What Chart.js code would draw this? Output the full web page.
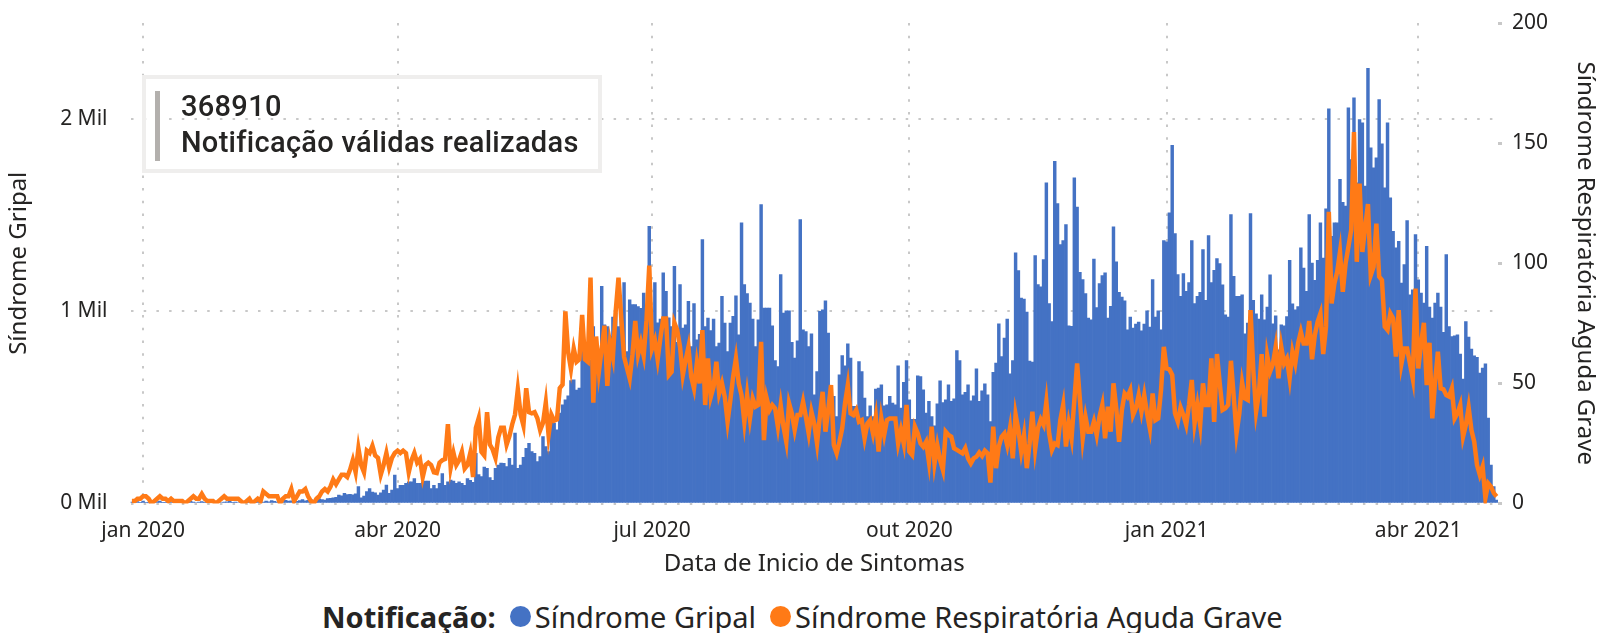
<!DOCTYPE html>
<html>
<head>
<meta charset="utf-8">
<script src="https://cdn.jsdelivr.net/npm/chart.js@4.4.0/dist/chart.umd.min.js"></script>
<style>
  html, body { margin: 0; padding: 0; background: #fff; }
  #wrap { position: relative; width: 1600px; height: 633px; overflow: hidden; font-family: "Noto Sans", sans-serif; color: #252423; }
  #grafico { position: absolute; left: 0; top: 0; }
  #cartao { position: absolute; left: 142px; top: 75px; width: 452px; height: 90px; border: 4px solid #efeeed; }
  #cartao .barra { position: absolute; left: 9px; top: 12px; width: 5px; height: 70px; background: #b3b0ad; }
  #cartao .txt { position: absolute; left: 35px; top: 9px; font-family: Roboto, sans-serif; font-weight: 500; font-size: 29px; line-height: 36px; color: #252423; letter-spacing: 0.3px; }
  #legenda { position: absolute; left: 322px; top: 595px; height: 42px; display: flex; align-items: center; font-size: 29px; white-space: nowrap; }
  #legenda b { margin-right: 14px; }
  #legenda .ponto { display: inline-block; width: 21px; height: 21px; border-radius: 50%; margin-right: 4px; }
</style>
</head>
<body>
<div id="wrap">
  <canvas id="grafico" width="1600" height="590"></canvas>
  <div id="cartao"><div class="barra"></div><div class="txt">368910<br>Notificação válidas realizadas</div></div>
  <div id="legenda"><b>Notificação:</b><span class="ponto" style="background:#4472c4"></span>Síndrome Gripal<span class="ponto" style="background:#ff7a16;margin-left:14px"></span>Síndrome Respiratória Aguda Grave</div>
</div>
<script>
// Síndrome Gripal, casos por dia (28/12/2019 a 29/04/2021)
const sgValues = [
  8, 5, 10, 4,
  12, 6, 3, 8, 5, 10, 12, 6, 4, 9,
  7, 5, 8, 10, 6, 4, 9, 11, 7, 5,
  8, 10, 6, 4, 12, 8, 6, 10, 5, 7,
  9, 11, 6, 8, 5, 10, 7, 9, 12, 6,
  8, 14, 10, 8, 12, 9, 15, 11, 8, 13,
  10, 16, 12, 14, 18, 11, 15, 20, 14, 17,
  22, 16, 18, 24, 20, 18, 26, 27, 30, 32,
  44, 40, 53, 46, 48, 45, 50, 88, 30, 39,
  62, 77, 60, 55, 44, 56, 70, 96, 53, 70,
  148, 78, 95, 95, 105, 113, 113, 130, 105, 105,
  113, 116, 116, 78, 95, 78, 105, 156, 95, 113,
  122, 116, 105, 113, 105, 95, 130, 120, 110, 261,
  150, 140, 190, 183, 135, 120, 183, 200, 210, 209,
  192, 235, 200, 366, 183, 200, 240, 287, 313, 270,
  261, 218, 244, 348, 296, 270, 427, 418, 383, 470,
  513, 540, 560, 640, 643, 590, 600, 800, 748, 760,
  748, 921, 695, 770, 1130, 930, 921, 870, 970, 990,
  920, 960, 1150, 790, 1060, 1035, 1035, 1025, 1015, 1095,
  975, 1442, 880, 1150, 940, 960,
  1200, 1104, 966, 920,
  1234, 838, 1139, 913, 930, 1052, 817, 1040, 852, 880,
  1373, 921, 965, 900, 960, 817, 835, 1078, 939, 791,
  939, 974, 1081, 878, 1460, 1139, 1092, 1043, 960, 817,
  956, 1555, 1017, 1017, 1017, 925, 744, 713, 1191, 991,
  1003, 1003, 838, 756, 847, 1477, 904, 895, 817, 883,
  565, 687, 1000, 1008, 1055, 887, 557, 557, 452, 670,
  769, 716, 831, 756, 505, 505, 739, 687, 548, 452,
  508, 452, 595, 600, 617, 508, 513, 557, 522, 513,
  716, 496, 630, 744, 539, 438, 438, 664, 661, 591,
  470, 531, 452,
  404, 518, 638, 525, 539, 617, 531, 545, 795, 743,
  565, 579, 617, 534, 560, 701, 531, 586, 623, 565,
  426, 683, 730, 935, 765, 861, 960, 675, 743, 1304,
  1212, 1069, 1064, 996, 741, 736, 1290, 1139, 1127, 1269,
  1668, 1040, 947, 1780, 1561, 1347, 1368, 1451, 925, 922,
  1695, 1542, 1203, 1165, 1092, 965, 956, 1272, 1020, 1144,
  1186, 1200, 965, 1026, 1439, 1257, 1099, 1074, 1055, 904,
  970, 913, 934, 944, 899, 934, 1003, 918, 1165, 970,
  1003, 904, 1368, 1361, 1512, 1863, 1404, 1191, 1078, 1196,
  1104, 1149, 1368, 1040, 1078, 1099,
  1321, 1057, 1394, 1150, 1213, 1274, 1248, 1138, 982, 970,
  1503, 1182, 1078, 1078, 1086, 883, 939, 1508, 1057, 987,
  960, 1086, 956, 1022, 1190, 935, 977, 800, 930, 925,
  973, 1265, 1039, 1008, 1025, 1330, 1225, 1104, 1503, 1251,
  1161, 1265, 1460, 1277, 1533, 2054, 1390, 1460, 1460, 1686,
  1567, 1547, 2059, 1790, 2111, 1668, 1998, 1981, 1651, 2264,
  1851, 1746, 1798, 2102, 1871, 1642, 1981, 1590, 1416, 1330,
  1364, 1147, 1243, 1472, 1086, 1112, 1399, 1164, 1095, 1043,
  1338, 1022, 965, 1043, 1095, 1022, 890, 1295, 921, 869,
  873, 878, 777, 647, 947, 866, 803, 768, 761, 678,
  704, 727, 444, 200, 88, 18
];

// Síndrome Respiratória Aguda Grave, casos por dia
const sragValues = [
  1, 1, 2, 2,
  3, 3, 2, 0, 1, 2, 3, 2, 2, 1,
  2, 1, 1, 1, 1, 0, 1, 2, 3, 2,
  2, 4, 2, 1, 1, 1, 0, 1, 2, 3,
  2, 2, 2, 2, 2, 1, 0, 1, 2, 0,
  1, 2, 1, 5, 4, 3, 3, 3, 3, 0,
  2, 3, 3, 6, 1, 3, 5, 5, 6, 3,
  1, 0, 2, 3, 5, 6, 5, 7, 10, 8,
  10, 12, 12, 11, 14, 18, 13, 23, 16, 13,
  22, 21, 24, 20, 19, 12, 16, 21, 15, 19,
  21, 22, 21, 22, 21, 13, 18, 21, 17, 18.5,
  11, 16, 17, 16, 13, 12.7, 17, 18, 18.5, 33,
  15, 21, 16, 18, 21.5, 14.5, 16, 21, 11, 31.5,
  35.5, 21.5, 20, 38, 24.5, 22.5, 19, 27.5, 31.5, 31.5,
  24.5, 28, 33, 37, 47.5, 37, 32.5, 48, 38, 37.5,
  38, 35.5, 30.5, 33.5, 42, 28.5, 37, 34.5, 35, 48,
  49.5, 80, 63, 56, 64.5, 59, 60, 78.5, 60, 59,
  94, 42, 69.5, 55, 64.5, 74, 49, 67, 61, 80,
  94, 77, 61, 56.5, 52, 62, 76, 62, 67, 61.5,
  76, 99, 64.5, 68, 60, 69, 77,
  77, 53.4, 54.8, 75.2, 72.2, 65.2, 53.4, 59.7, 65.2, 52.8,
  47.9, 58.3, 50, 72.2, 41, 60.4, 44.4, 48.6, 59, 45.8,
  50, 44.4, 34, 43, 52.8, 60.4, 50, 45.1, 34, 45.1,
  35.4, 43.7, 40.3, 41, 67.3, 26.4, 43.7, 38.9, 41, 39.6,
  32, 41, 32, 25.7, 41.7, 37.5, 30.6, 36.8, 36.8, 42.4,
  36.1, 29.2, 38.2, 33.3, 25, 36.1, 46.5, 29.9, 38.9, 49.3,
  24.3, 20.9, 25.7, 31.3, 41.7, 49.3, 37.5, 36.8, 38.9, 34,
  34.7, 27.1, 33.3, 34.7, 29.2, 36.1, 21.6, 35.4, 28.5, 34.7,
  35.4, 35.4, 35.4, 25, 30.6, 25, 41, 21.6, 20.2, 32,
  29.2, 25, 23.6, 25.7, 17.4, 32,
  16.7, 24.3, 18.1, 14, 29.9, 28.5, 27.8, 23, 22.3, 21.6,
  20.9, 23, 18.8, 16.7, 18.8, 19.5, 21.2, 19.8, 22, 20.9,
  8.7, 32, 14.7, 23.7, 27.8, 29.2, 24.3, 31.3, 18.8, 37.1,
  30.6, 21.6, 28.5, 14.7, 25, 38.2, 22.6, 31.3, 35, 32.7,
  42.4, 29.2, 22.3, 25, 24.3, 34.7, 41, 23.7, 33.4, 27.1,
  43, 58.3, 43, 27.1, 36.1, 29.9, 29.9, 34.1, 28.5, 36.1,
  41, 27.1, 40.3, 29.9, 50, 39.6, 25.7, 38.9, 45.8, 44.4,
  47.2, 36.8, 39.6, 45.1, 38.2, 45.1, 37.5, 31.3, 45.8, 34.7,
  35.4, 47.2, 65.2, 56.2, 55.8, 53.5, 37.5, 34.1, 40, 36.8,
  32.7, 41, 51.4, 33.4, 41, 32.7,
  50, 41, 41, 60.4, 34, 62.2, 50, 38.9, 39.6, 41,
  59.4, 44.5, 29.2, 37.5, 50.3, 43.8, 43.1, 80.5, 55.5, 38.2,
  45.8, 62.2, 36.1, 61.4, 54.9, 58, 65.2, 52.1, 65.2, 58.3,
  60.4, 52.1, 63.2, 58.3, 66.6, 71.5, 66.6, 66.6, 76, 60,
  70.1, 75.6, 79.1, 62.2, 73.6, 121.4, 83.3, 91.6, 96.4, 104.7,
  88.1, 99.9, 106.8, 113.8, 154.6, 100.6, 133.2, 104.7, 115.1, 124.6,
  95, 98.5, 116.5, 94.4, 93, 73.6, 72.2, 79.1, 77, 61.1,
  80.5, 58.3, 64.5, 64.5, 58.3, 52.1, 89.5, 56.2, 66.6, 75.2,
  49.3, 66.9, 35.4, 50.7, 63.2, 47.9, 47.5, 45.1, 44.5, 47.9,
  35.4, 37.5, 41, 27.8, 32.7, 40, 30.6, 25.7, 16, 11.9,
  15.4, 2.2, 8.4, 7, 4.3, 2.9
];

// marcas do eixo x
const tickDates = ['2020-01-01', '2020-04-01', '2020-07-01', '2020-10-01', '2021-01-01', '2021-04-01'];
const tickLabels = ['jan 2020', 'abr 2020', 'jul 2020', 'out 2020', 'jan 2021', 'abr 2021'];
const leftTicks = [0, 1000, 2000];
const rightTicks = [0, 50, 100, 150, 200];

// datas (um rótulo por dia, a partir de 28/12/2019)
const dias = [];
for (let i = 0; i < sgValues.length; i++) {
  dias.push(new Date(Date.UTC(2019, 11, 28 + i)).toISOString().slice(0, 10));
}

const corGrade = '#c8c8c8';
const corTexto = '#252423';
const fonteEixo = { family: 'Noto Sans', size: 21 };
const fonteTitulo = { family: 'Noto Sans', size: 24 };

// o eixo y não deve empurrar a área do gráfico para baixo
function semFolga(s, largura) {
  s.width = largura;
  s.paddingTop = 0;
  s.paddingBottom = 0;
}

const ctx = document.getElementById('grafico').getContext('2d');
new Chart(ctx, {
  data: {
    labels: dias,
    datasets: [
      {
        type: 'line',
        label: 'Síndrome Respiratória Aguda Grave',
        data: sragValues,
        yAxisID: 'y1',
        borderColor: '#ff7a16',
        borderWidth: 4.5,
        pointRadius: 0,
        tension: 0,
        order: 0
      },
      {
        type: 'bar',
        label: 'Síndrome Gripal',
        data: sgValues,
        yAxisID: 'y',
        backgroundColor: '#4472c4',
        barPercentage: 1,
        categoryPercentage: 1,
        order: 1
      }
    ]
  },
  options: {
    responsive: false,
    animation: false,
    layout: { padding: { top: 23, left: 0, right: 0, bottom: 0 } },
    plugins: { legend: { display: false }, tooltip: { enabled: false } },
    scales: {
      x: {
        type: 'category',
        offset: true,
        afterFit: (s) => { s.height = 86.5; s.paddingLeft = 0; s.paddingRight = 0; },
        grid: {
          offset: false,
          drawTicks: false,
          lineWidth: 2,
          color: (c) => tickDates.includes(dias[c.index]) ? corGrade : 'rgba(0,0,0,0)'
        },
        border: { display: false, dash: [2.5, 10.2] },
        ticks: {
          autoSkip: false,
          maxRotation: 0,
          padding: 15,
          color: corTexto,
          font: fonteEixo,
          callback: (v, i) => {
            const k = tickDates.indexOf(dias[i]);
            return k >= 0 ? tickLabels[k] : '';
          }
        },
        title: { display: true, text: 'Data de Inicio de Sintomas', color: corTexto, font: fonteTitulo, padding: { top: 0, bottom: 11 } }
      },
      y: {
        position: 'left',
        min: 0,
        max: 2500,
        afterFit: (s) => semFolga(s, 130.5),
        afterBuildTicks: (s) => { s.ticks = leftTicks.map((v) => ({ value: v })); },
        grid: { drawTicks: false, lineWidth: 2, color: corGrade },
        border: { display: false, dash: [2.5, 10.2] },
        ticks: { padding: 23, color: corTexto, font: fonteEixo, callback: (v) => (v / 1000) + ' Mil' },
        title: { display: true, text: 'Síndrome Gripal', color: corTexto, font: fonteTitulo, padding: { top: 5, bottom: 0 } }
      },
      y1: {
        position: 'right',
        min: 0,
        max: 200,
        afterFit: (s) => semFolga(s, 102),
        afterBuildTicks: (s) => { s.ticks = rightTicks.map((v) => ({ value: v })); },
        grid: { drawOnChartArea: false, drawTicks: true, tickLength: 4, tickWidth: 3, tickColor: corGrade },
        border: { display: false },
        ticks: { padding: 10, color: corTexto, font: fonteEixo },
        title: { display: true, text: 'Síndrome Respiratória Aguda Grave', color: corTexto, font: fonteTitulo, padding: { top: 1, bottom: 0 } }
      }
    }
  }
});
</script>
</body>
</html>
